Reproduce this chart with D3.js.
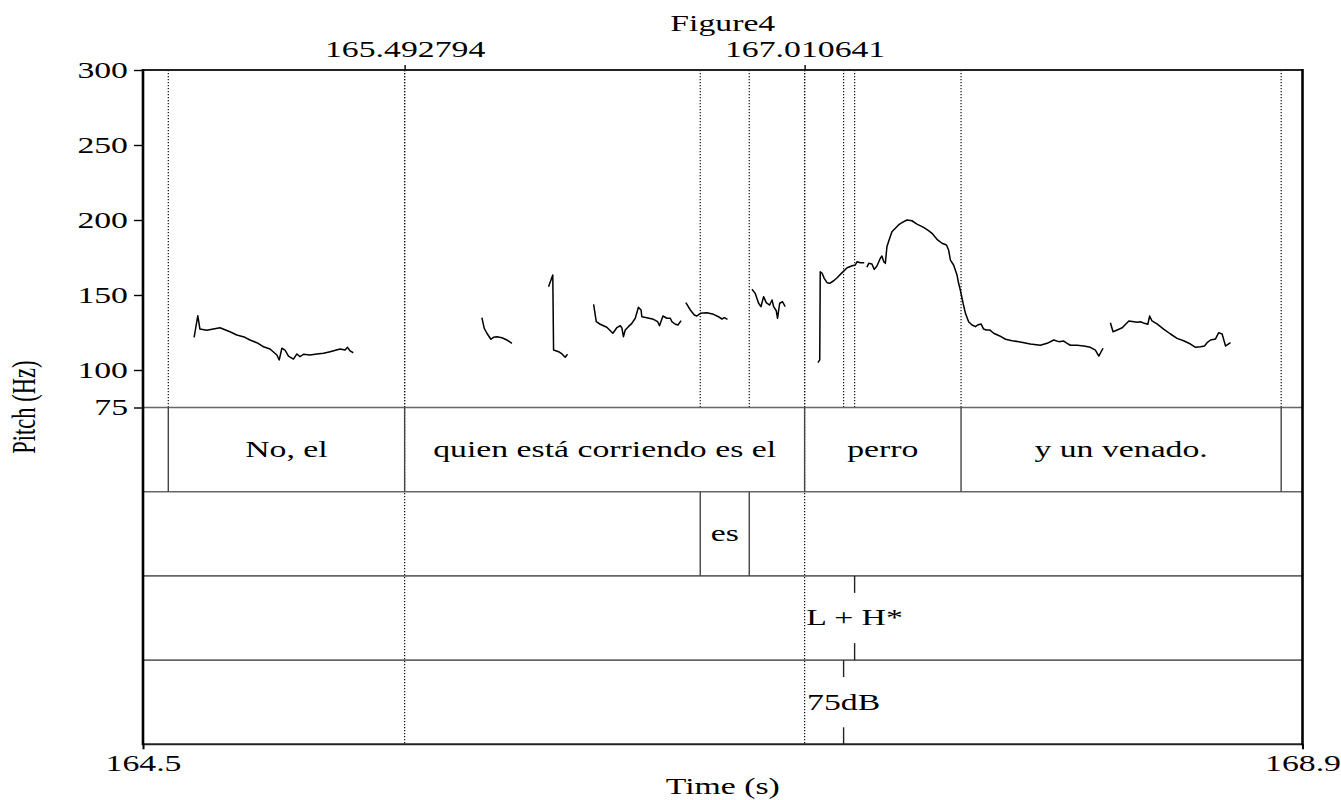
<!DOCTYPE html>
<html>
<head>
<meta charset="utf-8">
<script src="https://cdn.jsdelivr.net/npm/d3@7"></script>
<style>
  body { margin: 0; background: #fff; }
  svg { display: block; }
  text { font-family: "Liberation Serif", "Times New Roman", serif; font-size: 22.5px; fill: #000; }
</style>
</head>
<body>
<svg width="1341" height="800"></svg>
<script>
// axis values
var timeDomain = [164.5, 168.9];
var timeTicks = [164.5, 168.9];
var pitchDomain = [75, 300];
var pitchTicks = [75, 100, 150, 200, 250, 300];
var selectionTimes = [165.492794, 167.010641];

// tiers
var wordBounds = [164.5, 164.596, 165.492794, 167.010641, 167.6043, 168.8191, 168.9];
var wordLabels = ["", "No, el", "quien está corriendo es el", "perro", "y un venado.", ""];
var focusBounds = [164.5, 166.6146, 166.8006, 168.9];
var focusLabels = ["", "es", ""];
var toneTimes = [167.2004];
var toneLabels = ["L + H*"];
var levelTimes = [167.1586];
var levelLabels = ["75dB"];

// pitch track pieces: [time (s), pitch (Hz)]
var seg1 = [[164.694,121.8],[164.708,136.2],[164.716,127.3],[164.742,126.5],[164.792,128.2],[164.830,125.5],[164.856,123.3],[164.887,121.8],[164.906,120],[164.932,118.2],[164.957,115.5],[164.982,114],[165.008,110],[165.017,106.7],[165.027,114.5],[165.039,113.3],[165.052,109.3],[165.071,107.3],[165.084,110.7],[165.096,108.9],[165.109,110.5],[165.134,110],[165.159,110.7],[165.185,111.1],[165.210,112.2],[165.248,114],[165.267,113.3],[165.276,115.1],[165.286,112.7],[165.298,111.5]];
var seg2 = [[165.786,134.9],[165.795,127.8],[165.805,124.5],[165.820,120.5],[165.830,121.8],[165.843,122.2],[165.862,121.5],[165.881,120],[165.900,117.8]];
var seg3 = [[166.039,155.5],[166.055,163.3],[166.058,113.3],[166.077,112.2],[166.090,110.7],[166.102,108.5],[166.111,110.5]];
var seg4 = [[166.210,143.8],[166.220,132.2],[166.235,130.5],[166.260,128.5],[166.283,124.5],[166.298,128.2],[166.311,129.5],[166.317,128.2],[166.323,122.2],[166.330,126.7],[166.342,128.9],[166.355,131.1],[166.368,134.5],[166.380,141.8],[166.390,140],[166.393,135.5],[166.412,134.9],[166.437,133.8],[166.453,132.2],[166.460,129.5],[166.473,136],[166.488,134.5],[166.501,134.5],[166.507,132.2],[166.520,130.5],[166.530,130],[166.542,132.9]];
var seg5 = [[166.560,144.9],[166.577,140],[166.592,136.7],[166.602,136],[166.615,137.8],[166.640,138.2],[166.665,137.1],[166.684,135.5],[166.697,134],[166.706,134.9],[166.718,133.8]];
var seg6 = [[166.811,153.8],[166.823,151.1],[166.836,144.5],[166.845,142.2],[166.855,148.9],[166.865,144.9],[166.878,143.3],[166.887,146.7],[166.893,142.2],[166.903,139.5],[166.908,134.5],[166.916,144.5],[166.927,145.5],[166.937,142.2]];
var seg7 = [[167.061,104.9],[167.068,106.7],[167.070,165.5],[167.077,164.5],[167.085,161.1],[167.096,158.2],[167.106,157.8],[167.121,159.5],[167.134,161.5],[167.153,164.9],[167.172,168.2],[167.191,169.5],[167.203,170],[167.210,172.2],[167.222,171.5],[167.237,171.5]];
var seg8 = [[167.247,168.5],[167.254,171.1],[167.266,170.7],[167.275,167.1],[167.285,169.3],[167.298,174.5],[167.304,176],[167.311,172.2],[167.317,171.1],[167.323,182.2],[167.329,185.5],[167.342,192.2],[167.355,194.5],[167.367,196.7],[167.380,198.2],[167.399,200],[167.418,199.5],[167.437,197.3],[167.462,195.1],[167.481,192.9],[167.494,191.1],[167.513,187.1],[167.532,184.5],[167.549,183.3],[167.557,180],[167.564,173.3],[167.576,170],[167.589,163.3],[167.595,157.8],[167.602,152.9],[167.612,144.5],[167.621,137.8],[167.633,132.2],[167.646,130],[167.659,128.9],[167.667,130],[167.680,130.7],[167.690,127.3],[167.700,126.7],[167.713,126.7],[167.728,124.5],[167.751,122.7],[167.773,120.5],[167.798,119.5],[167.829,118.7],[167.867,117.3],[167.905,116.5],[167.931,117.8],[167.956,120],[167.975,118.9],[167.994,119.3],[168.007,117.8],[168.019,116.5],[168.045,116.5],[168.070,116],[168.095,115.1],[168.114,113.3],[168.127,109.3],[168.143,114.5]];
var seg9 = [[168.171,131.5],[168.181,125.5],[168.197,126.7],[168.216,128.2],[168.241,132.7],[168.273,131.8],[168.285,132.2],[168.300,131.1],[168.313,130.5],[168.320,136],[168.329,132.7],[168.348,130.7],[168.373,127.3],[168.399,124],[168.424,121.1],[168.449,119.5],[168.475,117.3],[168.494,115.1],[168.513,115.5],[168.528,116],[168.538,118.2],[168.551,120],[168.570,120.7],[168.582,124.9],[168.595,124],[168.608,116],[168.614,116.7],[168.627,118.2]];
var pitchSegments = [seg1, seg2, seg3, seg4, seg5, seg6, seg7, seg8, seg9];

var svg = d3.select("svg"),
  frameLeft = 143,
  frameRight = 1302.5,
  frameTop = 70,
  pitchBottom = 407.5,
  tierH = 84.2,
  frameBottom = pitchBottom + 4 * tierH,
  SX = 1.5; // the figure's text is stretched sideways

var x = d3.scaleLinear().domain(timeDomain).range([frameLeft, frameRight]),
  y = d3.scaleLinear().domain(pitchDomain).range([pitchBottom, frameTop]);

function tierTop(i) {
  return pitchBottom + i * tierH;
}

function stretched(x0, y0, rot) {
  return "translate(" + x0 + "," + y0 + ") scale(" + SX + ",1)" + (rot ? " rotate(" + rot + ")" : "");
}

function addText(g, x0, y0, txt, anchor, rot) {
  return g
    .append("text")
    .attr("transform", stretched(x0, y0, rot))
    .attr("text-anchor", anchor || "middle")
    .attr("dy", "0.33em")
    .text(txt);
}

// dotted marks over the pitch area
var marks = wordBounds.slice(1, -1)
  .concat(focusBounds.slice(1, -1))
  .concat(toneTimes)
  .concat(levelTimes);

svg.append("g")
  .selectAll("line")
  .data(marks)
  .enter()
  .append("line")
  .attr("x1", function (d) { return x(d); })
  .attr("x2", function (d) { return x(d); })
  .attr("y1", frameTop)
  .attr("y2", pitchBottom)
  .attr("stroke", "#111")
  .attr("stroke-width", 1.2)
  .attr("stroke-dasharray", "1.2,1.8");

// selection lines run through every tier
svg.append("g")
  .selectAll("line")
  .data(selectionTimes)
  .enter()
  .append("line")
  .attr("x1", function (d) { return x(d); })
  .attr("x2", function (d) { return x(d); })
  .attr("y1", frameTop)
  .attr("y2", frameBottom)
  .attr("stroke", "#111")
  .attr("stroke-width", 1.2)
  .attr("stroke-dasharray", "1.2,1.8");

// tier separators
svg.append("g")
  .selectAll("line")
  .data([0, 1, 2, 3])
  .enter()
  .append("line")
  .attr("x1", frameLeft)
  .attr("x2", frameRight)
  .attr("y1", function (d) { return tierTop(d); })
  .attr("y2", function (d) { return tierTop(d); })
  .attr("stroke", "#666")
  .attr("stroke-width", 1.6);

// interval tiers
function intervalTier(i, bounds, labels) {
  var g = svg.append("g").attr("class", "tier");
  g.selectAll("line")
    .data(bounds.slice(1, -1))
    .enter()
    .append("line")
    .attr("x1", function (d) { return x(d); })
    .attr("x2", function (d) { return x(d); })
    .attr("y1", tierTop(i))
    .attr("y2", tierTop(i + 1))
    .attr("stroke", "#444")
    .attr("stroke-width", 1.4);
  labels.forEach(function (lab, k) {
    if (lab) addText(g, (x(bounds[k]) + x(bounds[k + 1])) / 2, tierTop(i) + tierH / 2, lab);
  });
}

// point tiers
function pointTier(i, times, labels) {
  var g = svg.append("g").attr("class", "tier");
  times.forEach(function (t, k) {
    g.append("line")
      .attr("x1", x(t)).attr("x2", x(t))
      .attr("y1", tierTop(i)).attr("y2", tierTop(i) + 17)
      .attr("stroke", "#222").attr("stroke-width", 1.4);
    g.append("line")
      .attr("x1", x(t)).attr("x2", x(t))
      .attr("y1", tierTop(i + 1) - 17).attr("y2", tierTop(i + 1))
      .attr("stroke", "#222").attr("stroke-width", 1.4);
    addText(g, x(t), tierTop(i) + tierH / 2, labels[k]);
  });
}

intervalTier(0, wordBounds, wordLabels);
intervalTier(1, focusBounds, focusLabels);
pointTier(2, toneTimes, toneLabels);
pointTier(3, levelTimes, levelLabels);

// pitch contour
var line = d3
  .line()
  .x(function (d) { return x(d[0]); })
  .y(function (d) { return y(d[1]); });

svg.append("g")
  .selectAll("path")
  .data(pitchSegments)
  .enter()
  .append("path")
  .attr("d", line)
  .attr("fill", "none")
  .attr("stroke", "#000")
  .attr("stroke-width", 1.5)
  .attr("stroke-linejoin", "round");

// frame
svg.append("line").attr("x1", frameLeft).attr("x2", frameRight).attr("y1", frameTop).attr("y2", frameTop)
  .attr("stroke", "#222").attr("stroke-width", 2);
svg.append("line").attr("x1", frameLeft).attr("x2", frameRight).attr("y1", frameBottom).attr("y2", frameBottom)
  .attr("stroke", "#222").attr("stroke-width", 2);
svg.append("line").attr("x1", frameLeft).attr("x2", frameLeft).attr("y1", frameTop - 1).attr("y2", frameBottom + 1)
  .attr("stroke", "#000").attr("stroke-width", 2.6);
svg.append("line").attr("x1", frameRight).attr("x2", frameRight).attr("y1", frameTop - 1).attr("y2", frameBottom + 1)
  .attr("stroke", "#000").attr("stroke-width", 2.6);

// axes
var gy = svg.append("g")
  .attr("transform", "translate(" + frameLeft + ",0)")
  .call(d3.axisLeft(y).tickValues(pitchTicks).tickSize(9).tickSizeOuter(0));
gy.select(".domain").remove();
gy.selectAll("line").attr("stroke", "#000").attr("stroke-width", 1.4);
gy.selectAll("text")
  .attr("x", null)
  .attr("dy", "0.33em")
  .attr("transform", stretched(-15, 0));

var gx = svg.append("g")
  .attr("transform", "translate(0," + frameBottom + ")")
  .call(d3.axisBottom(x).tickValues(timeTicks).tickSize(5).tickSizeOuter(0).tickFormat(d3.format(".1f")));
gx.select(".domain").remove();
gx.selectAll("line").attr("stroke", "#000").attr("stroke-width", 2);
gx.selectAll("text")
  .attr("y", null)
  .attr("dy", null)
  .attr("transform", stretched(0, 27));

var gt = svg.append("g")
  .attr("transform", "translate(0," + frameTop + ")")
  .call(d3.axisTop(x).tickValues(selectionTimes).tickSize(5).tickSizeOuter(0).tickFormat(d3.format(".6f")));
gt.select(".domain").remove();
gt.selectAll("line").attr("stroke", "#000").attr("stroke-width", 1.4);
gt.selectAll("text")
  .attr("y", null)
  .attr("dy", null)
  .attr("transform", stretched(0, -13));

svg.selectAll(".tick text")
  .attr("fill", "#000");
svg.selectAll("g").attr("font-family", null).attr("font-size", null);

// titles
addText(svg, (frameLeft + frameRight) / 2, 24, "Figure4");
addText(svg, (frameLeft + frameRight) / 2, 787, "Time (s)");
svg.append("text")
  .attr("transform", stretched(23, (frameTop + frameBottom) / 2, -90))
  .attr("text-anchor", "middle")
  .attr("dy", "0.35em")
  .text("Pitch (Hz)");
</script>
</body>
</html>
